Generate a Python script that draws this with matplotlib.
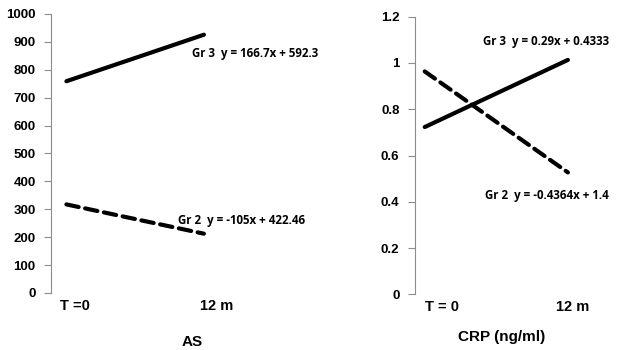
import matplotlib
matplotlib.use("Agg")
import matplotlib.pyplot as plt

plt.rcParams['font.family'] = ['Liberation Sans', 'DejaVu Sans']

times = [0, 1]
time_labels = ['T =0', '12 m']
time_labels_crp = ['T = 0', '12 m']

as_gr3 = [759.0, 925.7]
as_gr2 = [317.46, 212.46]
crp_gr3 = [0.7233, 1.0133]
crp_gr2 = [0.9636, 0.5272]

as_eq3 = 'Gr 3  y = 166.7x + 592.3'
as_eq2 = 'Gr 2  y = -105x + 422.46'
crp_eq3 = 'Gr 3  y = 0.29x + 0.4333'
crp_eq2 = 'Gr 2  y = -0.4364x + 1.4'

fig = plt.figure(figsize=(6.4, 3.5), dpi=100)
ax1 = fig.add_axes([0.0797, 0.163, 0.40, 0.797])
ax2 = fig.add_axes([0.648, 0.1586, 0.34, 0.7937])

lw = 3.0
eq_font = dict(family=['Open Sans', 'DejaVu Sans'], fontsize=8.3, fontweight='bold')


def style(ax):
    for s in ['top', 'right', 'bottom']:
        ax.spines[s].set_visible(False)
    ax.spines['left'].set_color('#8c8c8c')
    ax.tick_params(axis='y', colors='#8c8c8c', length=5, pad=6,
                   labelcolor='black', labelsize=9.5)
    ax.tick_params(axis='x', length=0, pad=4, labelsize=10.5)
    for t in ax.get_yticklabels() + ax.get_xticklabels():
        t.set_fontweight('bold')


# AS panel
ax1.plot(times, as_gr3, color='black', lw=lw, solid_capstyle='round')
ax1.plot(times, as_gr2, color='black', lw=lw, dashes=(3, 1.6), dash_capstyle='round')
ax1.set_ylim(0, 1000)
ax1.set_yticks(range(0, 1001, 100))
ax1.set_xlim(-15 / 134, 1.75)
ax1.set_xticks([0.06, 1.09])
ax1.set_xticklabels(time_labels)
style(ax1)
ax1.text(0.91, 860, as_eq3, va='center', ha='left', clip_on=False, **eq_font)
ax1.text(0.81, 259, as_eq2, va='center', ha='left', clip_on=False, **eq_font)

# CRP panel
ax2.plot(times, crp_gr3, color='black', lw=lw, solid_capstyle='round')
ax2.plot(times, crp_gr2, color='black', lw=lw, dashes=(3, 1.6), dash_capstyle='round')
ax2.set_ylim(0, 1.2)
ax2.set_yticks([0, 0.2, 0.4, 0.6, 0.8, 1.0, 1.2])
ax2.set_yticklabels(['0', '0.2', '0.4', '0.6', '0.8', '1', '1.2'])
ax2.set_xlim(-10 / 143, 1.45)
ax2.set_xticks([0.12, 1.03])
ax2.set_xticklabels(time_labels_crp)
style(ax2)
ax2.text(0.405, 1.092, crp_eq3, va='center', ha='left', clip_on=False, **eq_font)
ax2.text(0.42, 0.4255, crp_eq2, va='center', ha='left', clip_on=False, **eq_font)

fig.text(192 / 640, 1 - 342 / 350, 'AS', ha='center', va='center',
         fontsize=11, fontweight='bold')
fig.text(502 / 640, 1 - 337 / 350, 'CRP (ng/ml)', ha='center', va='center',
         fontsize=11, fontweight='bold')

fig.savefig('out.png', dpi=100)
